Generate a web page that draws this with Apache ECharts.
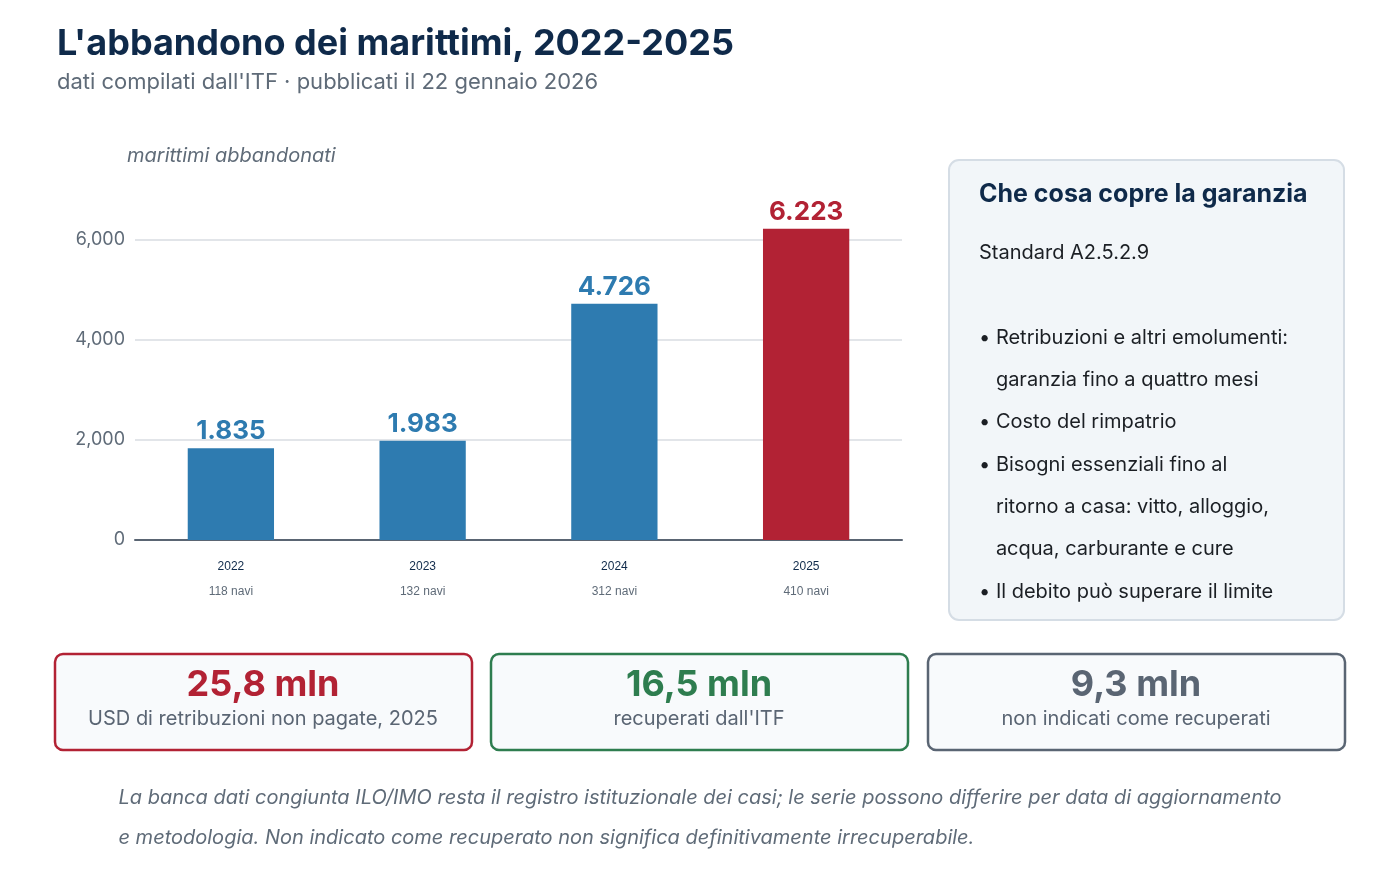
<!DOCTYPE html>
<html><head><meta charset="utf-8">
<script src="https://cdn.jsdelivr.net/npm/echarts@6/dist/echarts.min.js"></script>
<style>html,body{margin:0;padding:0;background:#fff}#c{width:1400px;height:880px}</style>
</head><body><div id="c"></div>
<script>
const years = ['2022','2023','2024','2025'];
const ships = ['118 navi','132 navi','312 navi','410 navi'];
const seafarers = [1835, 1983, 4726, 6223];
const barColors = ['#2e7bb0','#2e7bb0','#2e7bb0','#b22234'];
const yTicks = [0, 2000, 4000, 6000];
const panelTitle = 'Che cosa copre la garanzia';
const panelLines = ['Standard A2.5.2.9','','• Retribuzioni e altri emolumenti:','   garanzia fino a quattro mesi','• Costo del rimpatrio','• Bisogni essenziali fino al','   ritorno a casa: vitto, alloggio,','   acqua, carburante e cure','• Il debito può superare il limite'];
const kpiValues = ['25,8 mln','16,5 mln','9,3 mln'];
const kpiLabels = ['USD di retribuzioni non pagate, 2025',"recuperati dall'ITF",'non indicati come recuperati'];
const kpiColors = ['#b22234','#2e7d4f','#5a6573'];
const F = 'Inter, "Noto Sans", sans-serif';
const fmt = v => v.toLocaleString('it-IT').replace(/,/g,'.');
const fmtIt = v => String(v).replace(/\B(?=(\d{3})+(?!\d))/g,'.');

const graphic = [
  {type:'text',left:57,top:26,style:{text:"L'abbandono dei marittimi, 2022-2025",font:'bold 36px '+F,fill:'#0f2a4a'}},
  {type:'text',left:57,top:71,style:{text:"dati compilati dall'ITF · pubblicati il 22 gennaio 2026",font:'22px '+F,fill:'#5f6b78'}},
  {type:'text',left:127,top:146,style:{text:'marittimi abbandonati',font:'italic 20px '+F,fill:'#5f6b78'}},
  {type:'rect',shape:{x:949,y:160,width:395,height:460,r:10},style:{fill:'#f2f6f9',stroke:'#d5dde5',lineWidth:2}},
  {type:'text',left:979,top:182,style:{text:panelTitle,font:'bold 25px '+F,fill:'#0f2a4a'}},
  {type:'text',left:979,top:232,style:{text:panelLines.join('\n'),font:'20px '+F,fill:'#1b1f24',lineHeight:42.3}},
  {type:'text',left:'center',top:778,style:{text:'La banca dati congiunta ILO/IMO resta il registro istituzionale dei casi; le serie possono differire per data di aggiornamento\ne metodologia. Non indicato come recuperato non significa definitivamente irrecuperabile.',font:'italic 20px '+F,fill:'#5f6b78',lineHeight:40,align:'center'}}
];
const boxX = [55,491,928];
boxX.forEach((x,i)=>{
  graphic.push({type:'rect',shape:{x:x,y:654,width:417,height:96,r:8},style:{fill:'#f8fafc',stroke:kpiColors[i],lineWidth:2.5}});
  graphic.push({type:'text',x:x+208,y:667,style:{text:kpiValues[i],font:'bold 36px '+F,fill:kpiColors[i],align:'center'}});
  graphic.push({type:'text',x:x+208,y:709,style:{text:kpiLabels[i],font:'20px '+F,fill:'#5a6573',align:'center'}});
});

const chart = echarts.init(document.getElementById('c'));
chart.setOption({
  animation:false,
  grid:{left:135,right:498,top:240,bottom:340},
  xAxis:{type:'category',data:years,
    axisLine:{lineStyle:{color:'#5a6573',width:2}},axisTick:{show:false},
    axisLabel:{margin:14,formatter:(v,i)=>'{y|'+v+'}\n{n|'+ships[i]+'}',
      rich:{y:{font:'bold 24px '+F,color:'#0f2a4a',lineHeight:26},n:{font:'20px '+F,color:'#5f6b78',lineHeight:24}}}},
  yAxis:{type:'value',min:0,max:6000,interval:2000,
    axisLabel:{fontFamily:F,fontSize:18,color:'#5f6b78',margin:10},
    splitLine:{lineStyle:{color:'#d9dde2',width:1.5}},axisLine:{show:false},axisTick:{show:false}},
  series:[{type:'bar',clip:false,barWidth:'45%',
    data:seafarers.map((v,i)=>({value:v,itemStyle:{color:barColors[i]},label:{color:barColors[i]}})),
    label:{show:true,position:'top',distance:4,font:'bold 26px '+F,fontWeight:'bold',fontSize:26,fontFamily:F,formatter:p=>fmtIt(p.value)}}],
  graphic:graphic
});
</script></body></html>
